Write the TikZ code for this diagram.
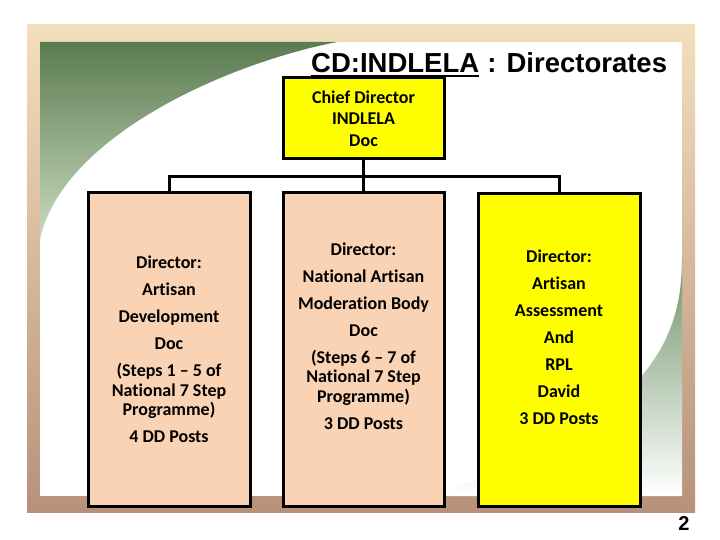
\documentclass[tikz,border=0pt]{standalone}
\usepackage{fontspec}
\setmainfont{Carlito}[Ligatures={TeX,NoCommon}]
\newfontfamily\arialfont{Liberation Sans}
\definecolor{frametop}{HTML}{F3DFBC}
\definecolor{framebot}{HTML}{B8917A}
\definecolor{swtop}{HTML}{5B7B50}
\definecolor{swbot}{HTML}{C9DCC0}
\definecolor{swright}{HTML}{6E9468}
\definecolor{peach}{HTML}{F9D3B4}
\definecolor{dirgold}{HTML}{FFFF00}

\begin{document}
\begin{tikzpicture}[x=1pt,y=-1pt,
    dirbox/.style={draw,line width=3pt,minimum width=162pt,minimum height=313pt,inner sep=0pt},
    boxtext/.style={align=center,font=\bfseries\fontsize{18}{19.5}\selectfont},
    titletext/.style={inner sep=0pt,anchor=base west,font=\arialfont\bfseries\fontsize{27.5}{30}\selectfont},
    conn/.style={line width=3pt}]
  \useasboundingbox (0,0) rectangle (720,540);

  % slide frame
  \shade[top color=frametop,bottom color=framebot] (27,25) rectangle (695,512);
  \fill[white] (40,42) rectangle (682,496);
  \shade[top color=swtop,bottom color=swbot]
    (40,42) -- (337,42) .. controls (220,65) and (60,140) .. (40,240) -- cycle;
  \shade[top color=swright,middle color=swright!75,bottom color=white]
    (682,257) .. controls (682,330) and (660,420) .. (430,496) -- (682,496) -- cycle;

  % title
  \node[titletext] (ttlcd) at (311,73) {CD:INDLELA};
  \node[titletext] (ttldir) at (ttlcd.base east) {\ : Directorates};
  \draw[line width=1.8pt] ([yshift=-3pt]ttlcd.base west) -- ([yshift=-3pt]ttlcd.base east);

  % boxes
  \node[draw,line width=3pt,fill=dirgold,minimum width=161pt,minimum height=81pt] (chief) at (363.5,118.5) {};
  \node[align=center,font=\bfseries\fontsize{18}{21.5}\selectfont] (chieftxt) at (chief.center)
    {Chief Director\\INDLELA\\Doc};

  \node[dirbox,fill=peach] (adev) at (169,349.5) {};
  \node[dirbox,fill=peach,minimum width=161pt] (nab) at (363.5,349.5) {};
  \node[dirbox,fill=dirgold] (aar) at (559,350) {};

  \node[boxtext] (adevtxt) at (adev.center)
    {Director:\\[7.5pt]Artisan\\[7.5pt]Development\\[7.5pt]Doc\\[7.5pt](Steps 1 – 5 of\\National 7 Step\\Programme)\\[7.5pt]4 DD Posts};
  \node[boxtext] (nabtxt) at ([yshift=13.5pt]nab.center)
    {Director:\\[7.5pt]National Artisan\\[7.5pt]Moderation Body\\[7.5pt]Doc\\[7.5pt](Steps 6 – 7 of\\National 7 Step\\Programme)\\[7.5pt]3 DD Posts};
  \node[boxtext] (aartxt) at ([yshift=13pt]aar.center)
    {Director:\\[7.5pt]Artisan\\[7.5pt]Assessment\\[7.5pt]And\\[7.5pt]RPL\\[7.5pt]David\\[7.5pt]3 DD Posts};

  % connectors
  \coordinate (bar) at (0,177);
  \draw[conn] (chief.south) -- (nab.north);
  \draw[conn] (adev.north) -- (adev.north |- bar) -| (aar.north);

  \node[anchor=base,font=\arialfont\bfseries\fontsize{20}{22}\selectfont] (pgno) at (684,530) {2};
\end{tikzpicture}
\end{document}
